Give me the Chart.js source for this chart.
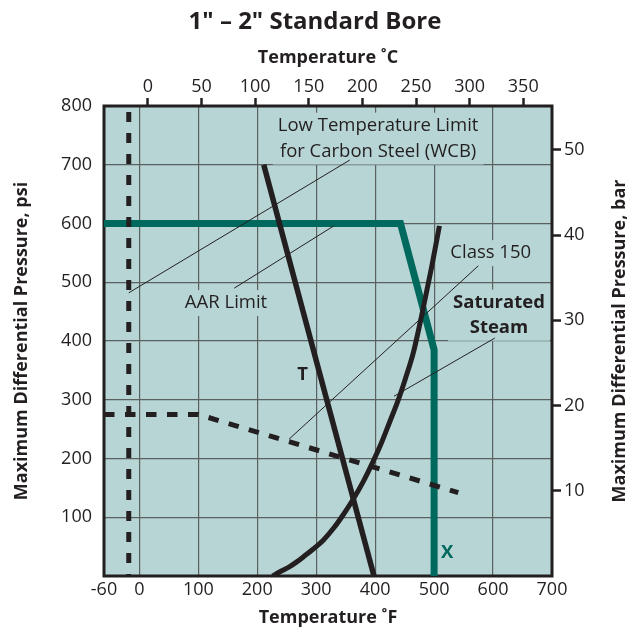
<!DOCTYPE html>
<html>
<head>
<meta charset="utf-8">
<script src="https://cdn.jsdelivr.net/npm/chart.js@4.4.0/dist/chart.umd.min.js"></script>
<style>
html,body{margin:0;padding:0;background:#ffffff;}
#wrap{width:630px;height:629px;position:relative;}
</style>
</head>
<body>
<div id="wrap"><canvas id="c"></canvas></div>
<script>
// ---------- data ----------
const xTicksF = [-60, 0, 100, 200, 300, 400, 500, 600, 700];
const xTicksC = [0, 50, 100, 150, 200, 250, 300, 350];
const yTicksPsi = [0, 100, 200, 300, 400, 500, 600, 700, 800];
const yTicksBar = [10, 20, 30, 40, 50];

// temperature °F, pressure psi
const lowTempLimit = [{x: -18, y: 800}, {x: -18, y: 0}];
const class150 = [{x: -60, y: 275}, {x: 100, y: 275}, {x: 541, y: 142}];
const limitX = [{x: -60, y: 600}, {x: 443, y: 600}, {x: 500, y: 385}, {x: 500, y: 0}];
const limitT = [{x: 211, y: 700}, {x: 398, y: 0}];
const saturatedSteam = [
  {x: 226, y: 0}, {x: 240, y: 8}, {x: 255, y: 16}, {x: 267, y: 24}, {x: 280, y: 34},
  {x: 295, y: 46}, {x: 312, y: 61}, {x: 330, y: 82}, {x: 345, y: 103}, {x: 363, y: 131},
  {x: 380, y: 161}, {x: 397, y: 196}, {x: 410, y: 225}, {x: 425, y: 263}, {x: 440, y: 302},
  {x: 451, y: 335}, {x: 465, y: 381}, {x: 479, y: 444}, {x: 496, y: 527}, {x: 509, y: 596}
];
// leader lines (°F, psi)
const leaderLTL = [{x: 357, y: 708}, {x: -18, y: 482}];
const leaderAAR = [{x: 161, y: 490}, {x: 330, y: 596}];
const leaderClass = [{x: 575, y: 528}, {x: 254, y: 233}];
const leaderSteam = [{x: 603, y: 405}, {x: 432, y: 306}];

// ---------- style ----------
const FONT = "'Open Sans', sans-serif";
const DARK = '#231f20';
const GREEN = '#00695e';
const PLOT_BG = '#b8d5d5';
const GRID = '#5a5f5f';
const PSI_PER_BAR = 14.5038;
const RIGHT_TITLE = 'Maximum Differential Pressure, bar';

const annotations = [
  {lines: ['Low Temperature Limit', 'for Carbon Steel (WCB)'], x: 405, y: [758, 714], bold: false, color: DARK, box: true},
  {lines: ['AAR Limit'], x: 147, y: [456], bold: false, color: DARK, box: true},
  {lines: ['Class 150'], x: 596, y: [541], bold: false, color: DARK, box: true},
  {lines: ['Saturated', 'Steam'], x: 610, y: [457, 414], bold: true, color: DARK, box: true},
  {lines: ['T'], x: 277, y: [334], bold: true, color: DARK, box: false},
  {lines: ['X'], x: 522, y: [30], bold: true, color: GREEN, box: false}
];

function annFont(a) { return (a.bold ? 'bold ' : '') + '18.5px ' + FONT; }

const plotPlugin = {
  id: 'plotDeco',
  beforeDraw(chart) {
    const {ctx, chartArea: a} = chart;
    ctx.save();
    ctx.fillStyle = PLOT_BG;
    ctx.fillRect(a.left, a.top, a.right - a.left, a.bottom - a.top);
    ctx.restore();
  },
  beforeDatasetsDraw(chart) {
    const {ctx, chartArea: a, scales} = chart;
    ctx.save();
    annotations.forEach(an => {
      if (!an.box) return;
      ctx.font = annFont(an);
      let minX = Infinity, maxX = -Infinity, minY = Infinity, maxY = -Infinity;
      an.lines.forEach((t, i) => {
        const m = ctx.measureText(t);
        const cx = scales.x.getPixelForValue(an.x);
        const by = scales.y.getPixelForValue(an.y[i]);
        minX = Math.min(minX, cx - m.width / 2);
        maxX = Math.max(maxX, cx + m.width / 2);
        minY = Math.min(minY, by - 14);
        maxY = Math.max(maxY, by + 5);
      });
      ctx.fillStyle = PLOT_BG;
      ctx.fillRect(minX - 5, minY - 4, maxX - minX + 10, maxY - minY + 7);
    });
    ctx.strokeStyle = DARK;
    ctx.lineWidth = 3;
    ctx.strokeRect(a.left, a.top, a.right - a.left, a.bottom - a.top);
    ctx.restore();
  },
  afterDatasetsDraw(chart) {
    const {ctx, scales, chartArea: a} = chart;
    ctx.save();
    ctx.textAlign = 'center';
    ctx.textBaseline = 'alphabetic';
    annotations.forEach(an => {
      ctx.font = annFont(an);
      ctx.fillStyle = an.color;
      an.lines.forEach((t, i) => {
        ctx.fillText(t, scales.x.getPixelForValue(an.x), scales.y.getPixelForValue(an.y[i]));
      });
    });
    // right axis title, reading bottom-to-top like the left one
    const y2 = scales.y2;
    ctx.translate(y2.right - 10.5, (a.top + a.bottom) / 2);
    ctx.rotate(-Math.PI / 2);
    ctx.font = 'bold 18px ' + FONT;
    ctx.fillStyle = DARK;
    ctx.textBaseline = 'middle';
    ctx.fillText(RIGHT_TITLE, 0, 0);
    ctx.restore();
  }
};

function ds(label, data, color, width, extra) {
  return Object.assign({
    label, data, borderColor: color, borderWidth: width, pointRadius: 0,
    fill: false, tension: 0, xAxisID: 'x', yAxisID: 'y'
  }, extra || {});
}

const datasets = [
  ds('Low Temperature Limit leader', leaderLTL, DARK, 1),
  ds('AAR Limit leader', leaderAAR, DARK, 1),
  ds('Class 150 leader', leaderClass, DARK, 1),
  ds('Saturated Steam leader', leaderSteam, DARK, 1),
  ds('Low Temperature Limit (WCB)', lowTempLimit, DARK, 5, {borderDash: [10, 11], borderDashOffset: 15}),
  ds('Class 150', class150, DARK, 5, {borderDash: [10.5, 10.5], borderDashOffset: 0}),
  ds('T', limitT, DARK, 5.5),
  ds('Saturated Steam', saturatedSteam, DARK, 5, {cubicInterpolationMode: 'monotone'}),
  ds('X', limitX, GREEN, 7, {borderJoinStyle: 'miter'})
];

const tickFont = {family: FONT, size: 18};
const titleFont = {family: FONT, size: 18, weight: 'bold'};

new Chart(document.getElementById('c'), {
  type: 'line',
  data: {datasets},
  options: {
    responsive: true,
    maintainAspectRatio: false,
    animation: false,
    layout: {padding: 0},
    plugins: {
      legend: {display: false},
      tooltip: {enabled: false},
      title: {
        display: true,
        text: '1" \u2013 2" Standard Bore',
        color: DARK,
        font: {family: FONT, size: 24, weight: 'bold'},
        padding: {top: 8, bottom: 0}
      }
    },
    scales: {
      x: {
        type: 'linear', position: 'bottom', min: -60, max: 700,
        afterBuildTicks: s => { s.ticks = xTicksF.map(v => ({value: v})); },
        afterFit: s => { s.height = 53; },
        border: {display: false},
        grid: {
          drawTicks: false, lineWidth: 1.2,
          color: c => (c.tick && (c.tick.value === -60 || c.tick.value === 700)) ? 'rgba(0,0,0,0)' : GRID
        },
        ticks: {font: tickFont, color: DARK, padding: 3, maxRotation: 0, autoSkip: false},
        title: {display: true, text: 'Temperature \u02DAF', color: DARK, font: titleFont, padding: {top: 0, bottom: 0}}
      },
      x2: {
        type: 'linear', position: 'top', min: -41.0, max: 376.8,
        afterBuildTicks: s => { s.ticks = xTicksC.map(v => ({value: v})); },
        afterFit: s => { s.height = 69.2; },
        border: {display: false},
        grid: {drawOnChartArea: false, drawTicks: true, tickLength: 8, tickColor: DARK, tickWidth: 2.5},
        ticks: {font: tickFont, color: DARK, padding: 0, maxRotation: 0, autoSkip: false},
        title: {display: true, text: 'Temperature \u02DAC', color: DARK, font: titleFont, padding: {top: 10, bottom: 0}}
      },
      y: {
        type: 'linear', position: 'left', min: 0, max: 800,
        afterBuildTicks: s => { s.ticks = yTicksPsi.map(v => ({value: v})); },
        afterFit: s => { s.width = 104; },
        border: {display: false},
        grid: {
          drawTicks: false, lineWidth: 1.2,
          color: c => (c.tick && (c.tick.value === 0 || c.tick.value === 800)) ? 'rgba(0,0,0,0)' : GRID
        },
        ticks: {font: tickFont, color: DARK, padding: 12, callback: v => v === 0 ? '' : String(v)},
        title: {display: true, text: 'Maximum Differential Pressure, psi', color: DARK, font: titleFont, padding: {top: 11, bottom: 0}}
      },
      y2: {
        type: 'linear', position: 'right', min: 0, max: 800 / PSI_PER_BAR,
        afterBuildTicks: s => { s.ticks = yTicksBar.map(v => ({value: v})); },
        afterFit: s => { s.width = 78; },
        border: {display: false},
        grid: {drawOnChartArea: false, drawTicks: true, tickLength: 9, tickColor: DARK, tickWidth: 2.5},
        ticks: {font: tickFont, color: DARK, padding: 3},
        title: {display: false}
      }
    }
  },
  plugins: [plotPlugin]
});
</script>
</body>
</html>
